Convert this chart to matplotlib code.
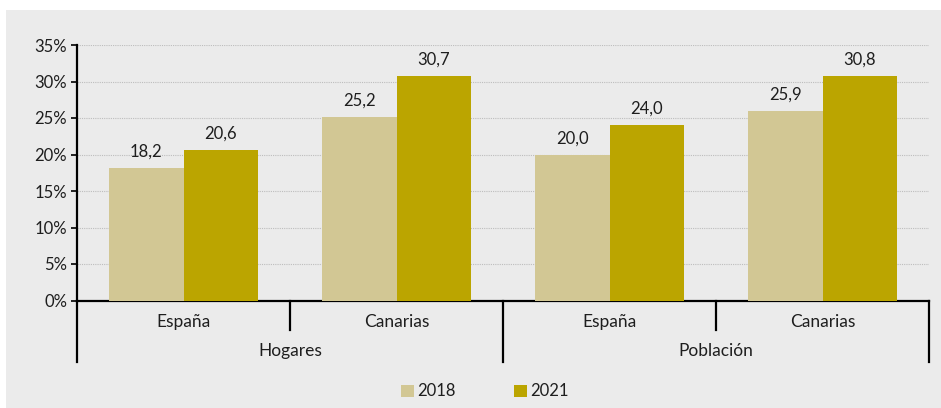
import matplotlib
matplotlib.use("Agg")
import matplotlib.pyplot as plt
from matplotlib.patches import Rectangle
from matplotlib.lines import Line2D
import numpy as np

plt.rcParams['font.family'] = ['Lato', 'DejaVu Sans']

groups = ["Hogares", "Población"]
categories = ["España", "Canarias", "España", "Canarias"]
years = ["2018", "2021"]
values_2018 = [18.2, 25.2, 20.0, 25.9]
values_2021 = [20.6, 30.7, 24.0, 30.8]
yticks = [0, 5, 10, 15, 20, 25, 30, 35]

c2018 = "#d2c794"
c2021 = "#bba500"
bg = "#ebebeb"
tc = "#1e1e1e"

W, H = 941, 408
fig = plt.figure(figsize=(W / 100, H / 100), dpi=100)
fig.patch.set_facecolor("white")
fig.patches.append(Rectangle((6 / W, 0), 1 - 6 / W, 1 - 10 / H, transform=fig.transFigure,
                             facecolor=bg, edgecolor="none", zorder=-10))

x0, x1 = 77, 929
y0, y1 = 300.5, 45
ax = fig.add_axes([x0 / W, (H - y0) / H, (x1 - x0) / W, (y0 - y1) / H])
ax.set_facecolor(bg)
ax.patch.set_alpha(0)

n = len(categories)
x = np.arange(n)
bw = 0.35
b1 = ax.bar(x - bw / 2, values_2018, bw, color=c2018, label=years[0], zorder=3)
b2 = ax.bar(x + bw / 2, values_2021, bw, color=c2021, label=years[1], zorder=3)

def fmt(v):
    return f"{v:.1f}".replace(".", ",")

for bars, vals in ((b1, values_2018), (b2, values_2021)):
    for r, v in zip(bars, vals):
        ax.annotate(fmt(v), (r.get_x() + r.get_width() / 2, v), xytext=(0, 6),
                    textcoords="offset points", ha="center", va="bottom",
                    fontsize=12, color=tc)

ax.set_xlim(-0.5, n - 0.5)
ax.set_ylim(0, 35)
ax.set_yticks(yticks)
ax.set_yticklabels([f"{t}%" for t in yticks], fontsize=12, color=tc)
ax.tick_params(axis="y", length=4, width=1.2, color="black", pad=3)
ax.set_xticks([])
ax.yaxis.grid(True, linestyle=(0, (1, 1)), color="#bdbdbd", linewidth=0.8, zorder=0)
for s in ["top", "right"]:
    ax.spines[s].set_visible(False)
ax.spines["left"].set_linewidth(1.6)
ax.spines["bottom"].set_linewidth(1.6)

def line_px(xa, ya, xb, yb, lw=1.6):
    fig.add_artist(Line2D([xa / W, xb / W], [(H - ya) / H, (H - yb) / H],
                          transform=fig.transFigure, color="black", linewidth=lw))

xp = lambda d: x0 + (d + 0.5) * (x1 - x0) / n
for b in range(n + 1):
    bx = xp(b - 0.5)
    if b % 2 == 0:
        line_px(bx, y0, bx, 362)
    else:
        line_px(bx, y0, bx, 330)

for i, c in enumerate(categories):
    fig.text(xp(i) / W, (H - 322) / H, c, ha="center", va="center", fontsize=12.5, color=tc)
for g, name in enumerate(groups):
    fig.text(xp(2 * g + 0.5) / W, (H - 351) / H, name, ha="center", va="center",
             fontsize=12.5, color=tc)

for (lx, col, lab) in ((401, c2018, years[0]), (514, c2021, years[1])):
    fig.patches.append(Rectangle((lx / W, (H - 397) / H), 12.5 / W, 12.5 / H,
                                 transform=fig.transFigure, facecolor=col, edgecolor="none"))
    fig.text((lx + 16) / W, (H - 390.5) / H, lab, ha="left", va="center", fontsize=12, color=tc)

fig.savefig("out.png", dpi=100, facecolor=fig.get_facecolor())
